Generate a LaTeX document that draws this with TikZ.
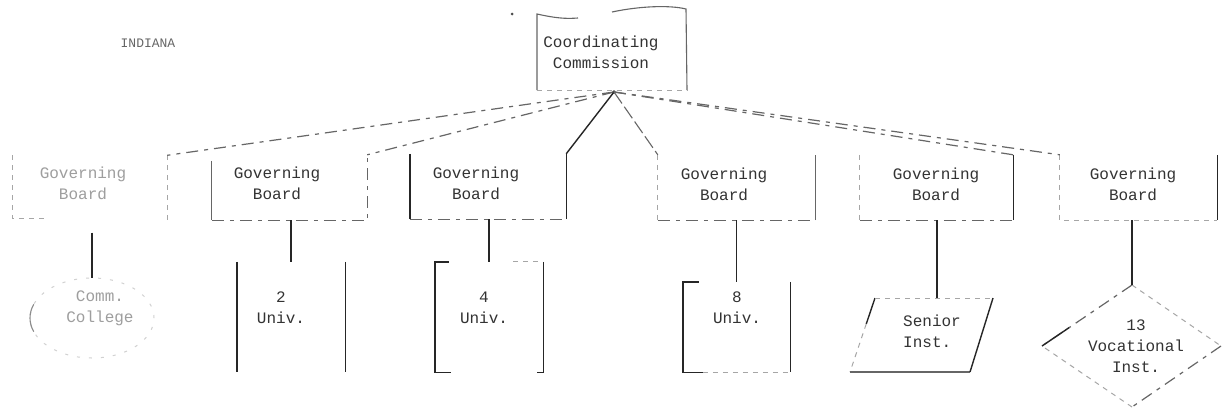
\documentclass[tikz,border=0pt]{standalone}
\usepackage{fontspec}
\setmonofont{Liberation Mono}
\usetikzlibrary{shapes.geometric,calc}
\begin{document}
\begin{tikzpicture}[x=1pt,y=-1pt,
  ink/.style={draw=black!85,line width=1.4pt},
  grayink/.style={draw=black!60,line width=1.1pt},
  faint/.style={draw=black!35,line width=1pt,dash pattern=on 5pt off 5pt},
  ghost/.style={draw=black!18,line width=1pt,dash pattern=on 3pt off 9pt},
  dashink/.style={draw=black!60,line width=1.2pt,dash pattern=on 12pt off 6pt on 4pt off 6pt},
  frame/.style={inner sep=0pt,minimum height=#1},
  lbl/.style={font=\ttfamily\fontsize{16}{21}\selectfont,text=black!80,align=center,inner sep=0pt},
  pale/.style={lbl,text=black!38},
]
\useasboundingbox (0,0) rectangle (1223,410);
\fill[white] (0,0) rectangle (1223,410);

% title
\node[lbl,font=\ttfamily\fontsize{13}{16}\selectfont,text=black!60] (title) at (148,43) {INDIANA};
\fill[black!70] (512,14) circle (1.5pt);

% coordinating commission (document shape with a wavy top)
\node[frame=78pt,minimum width=151pt] (cc) at (612.5,51) {};
\node[lbl] (cct) at (601,52.5) {Coordinating\\Commission};
\draw[grayink] (537,90) -- (537,14) .. controls (555,18) and (565,19) .. (578,18);
\draw[grayink] (612,12) .. controls (640,6) and (670,5) .. (686,9) -- (687,90);
\draw[faint] (537,90) -- (688,90);
\coordinate (apex) at (614,92);
\fill[black!80] (apex) circle (1.8pt);

% governing boards (open at the top)
\node[frame=63pt,minimum width=154pt] (b1) at (90,187) {};
\node[frame=65pt,minimum width=155pt] (b2) at (289.5,187.5) {};
\node[frame=65pt,minimum width=156pt] (b3) at (488,186.5) {};
\node[frame=65pt,minimum width=157pt] (b4) at (736.5,187.5) {};
\node[frame=65pt,minimum width=153pt] (b5) at (936.5,187.5) {};
\node[frame=65pt,minimum width=157pt] (b6) at (1138.5,187.5) {};

\node[pale] (b1t) at (83,183) {Governing\\Board};
\node[lbl] (b2t) at (277,183) {Governing\\Board};
\node[lbl] (b3t) at (476,183) {Governing\\Board};
\node[lbl] (b4t) at (724,184) {Governing\\Board};
\node[lbl] (b5t) at (936,184) {Governing\\Board};
\node[lbl] (b6t) at (1133,184) {Governing\\Board};

\draw[faint] (b1.north west) -- (b1.south west) -- ++(35,0);
\draw[faint] (b1.north east) -- ([yshift=-4pt]b1.south east);
\draw[grayink] ([yshift=-6pt]b2.north west) -- (b2.south west);
\draw[dashink] (b2.south west) -- (b2.south east) -- (b2.north east);
\draw[ink] (b3.north west) -- (b3.south west);
\draw[dashink] (b3.south west) -- (b3.south east);
\draw[ink] (b3.south east) -- (b3.north east);
\draw[faint] (b4.north west) -- (b4.south west);
\draw[dashink] (b4.south west) -- (b4.south east);
\draw[grayink] (b4.south east) -- (b4.north east);
\draw[faint] (b5.north west) -- (b5.south west);
\draw[dashink] (b5.south west) -- (b5.south east);
\draw[ink] (b5.south east) -- (b5.north east);
\draw[faint] (b6.north west) -- (b6.south west) -- (b6.south east);
\draw[ink] (b6.south east) -- (b6.north east);

% links from the commission to the boards
\draw[dashink] (apex) -- (b1.north east);
\draw[dashink] (apex) -- (b2.north east);
\draw[ink] (apex) -- (b3.north east);
\draw[grayink,dash pattern=on 14pt off 4pt] (apex) -- (b4.north west);
\draw[dashink] (apex) -- (b5.north east);
\draw[dashink] (apex) -- (b6.north west);

% institutions under each board
\node[ellipse,ghost,minimum width=124pt,minimum height=80pt] (c1) at (92,318) {};
\draw[draw=black!45,line width=1.1pt] (92,318) ++(160:62 and 40) arc[start angle=160,end angle=200,x radius=62,y radius=40];
\node[pale] (c1t) at (100,308) {Comm.\\College};

\node[frame=110pt,minimum width=108pt] (c2) at (291,317) {};
\draw[ink] (c2.north west) -- (c2.south west);
\draw[ink] (c2.north east) -- (c2.south east);
\node[lbl] (c2t) at (281,308) {2\\Univ.};

\node[frame=110pt,minimum width=108pt] (c3) at (489,317) {};
\draw[ink] ([xshift=14pt]c3.north west) -- (c3.north west) -- (c3.south west) -- ++(16,0);
\draw[faint] ([xshift=-30pt]c3.north east) -- ([xshift=-5pt]c3.north east);
\draw[ink] (c3.north east) -- (c3.south east) -- ++(-6,0);
\node[lbl] (c3t) at (484,308) {4\\Univ.};

\node[frame=90pt,minimum width=107pt] (c4) at (736.5,327) {};
\draw[ink] ([xshift=16pt]c4.north west) -- (c4.north west) -- (c4.south west) -- ++(20,0);
\draw[faint] ([xshift=20pt]c4.south west) -- (c4.south east);
\draw[ink] (c4.north east) -- (c4.south east);
\node[lbl] (c4t) at (737,308) {8\\Univ.};

\coordinate (p1) at (875,298);
\coordinate (p2) at (993,298);
\coordinate (p3) at (970,372);
\coordinate (p4) at (850,372);
\coordinate (c5) at (937,298);
\draw[ink] (p1) -- ($(p1)!0.35!(p4)$);
\draw[faint] ($(p1)!0.35!(p4)$) -- (p4);
\draw[faint] (p1) -- (p2);
\draw[grayink] (p4) -- (p3);
\draw[ink] (p2) -- (p3);
\node[lbl,align=left,anchor=west] (c5t) at (903,331) {Senior\\Inst.};

\coordinate (d1) at (1132,285);
\coordinate (d2) at (1221,346);
\coordinate (d3) at (1132,407);
\coordinate (d4) at (1042,346);
\draw[dashink] (d1) -- (d4);
\draw[ink] (d4) -- ($(d4)!0.3!(d1)$);
\draw[faint] (d1) -- (d2);
\draw[dashink] (d2) -- (d3);
\draw[faint] (d3) -- (d4);
\node[lbl] (c6t) at (1136,346) {13\\Vocational\\Inst.};

% board-to-institution links (vertical)
\draw[ink,shorten <=14pt] (c1.north |- b1.south) -- (c1.north);
\draw[ink] (c2.north |- b2.south) -- (c2.north);
\draw[ink] (c3.north |- b3.south) -- (c3.north);
\draw[ink] (c4.north |- b4.south) -- (c4.north);
\draw[ink] (c5 |- b5.south) -- (c5);
\draw[ink] (d1 |- b6.south) -- (d1);
\end{tikzpicture}
\end{document}
